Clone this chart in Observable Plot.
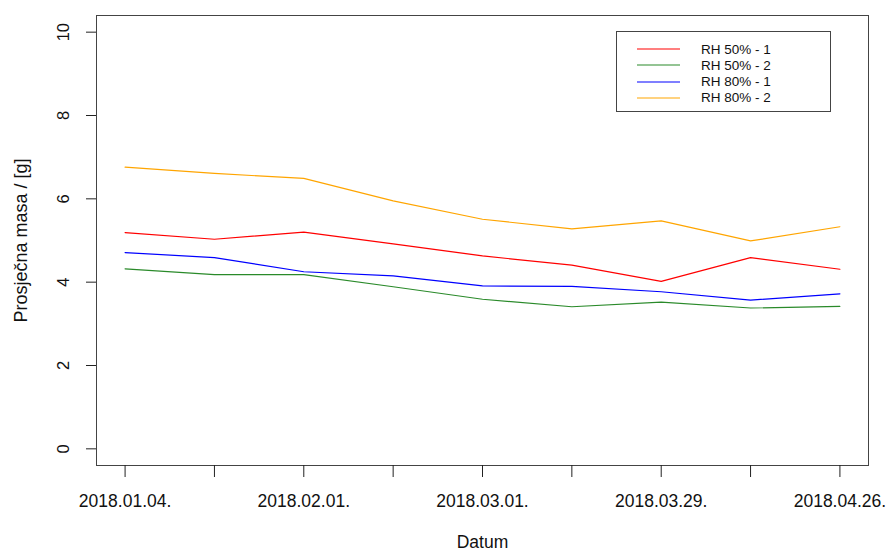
<!DOCTYPE html>
<html>
<head>
<meta charset="utf-8">
<script src="https://cdn.jsdelivr.net/npm/d3@7"></script>
<script src="https://cdn.jsdelivr.net/npm/@observablehq/plot@0.6"></script>
<style>
  html, body { margin: 0; padding: 0; background: #fff; }
  #wrap { position: relative; width: 887px; height: 551px; font-family: "Liberation Sans", Arial, Helvetica, sans-serif; }
  #legend { position: absolute; left: 616px; top: 31px; width: 215px; height: 81px; border: 1px solid #444; background: #fff; box-sizing: border-box; }
  .row { position: absolute; left: 0; height: 16px; display: flex; align-items: center; }
  .row svg { margin-left: 20px; }
  .row span { margin-left: 21px; font-size: 13.5px; color: #111; }
</style>
</head>
<body>
<div id="wrap"></div>
<script>
const dates = ["2018-01-04","2018-01-18","2018-02-01","2018-02-15","2018-03-01","2018-03-15","2018-03-29","2018-04-12","2018-04-26"];
const tickLabels = ["2018.01.04.","","2018.02.01.","","2018.03.01.","","2018.03.29.","","2018.04.26."];
const seriesNames = ["RH 50% - 1","RH 50% - 2","RH 80% - 1","RH 80% - 2"];
const seriesColors = ["#ff0000","#2a8a2a","#0000ff","#ffa500"];
const rh50_1 = [5.19,5.03,5.20,4.92,4.63,4.41,4.02,4.59,4.31];
const rh50_2 = [4.32,4.18,4.18,3.89,3.59,3.41,3.52,3.38,3.42];
const rh80_1 = [4.71,4.59,4.25,4.15,3.91,3.90,3.77,3.57,3.72];
const rh80_2 = [6.76,6.61,6.49,5.95,5.51,5.28,5.47,4.99,5.33];
const yTicks = [0,2,4,6,8,10];
const xTitle = "Datum";
const yTitle = "Prosječna masa / [g]";

const seriesValues = [rh50_1, rh50_2, rh80_1, rh80_2];
const parsed = dates.map(d => new Date(d + "T00:00:00Z"));
const data = [];
seriesValues.forEach((vals, s) => vals.forEach((v, i) => data.push({series: seriesNames[s], date: parsed[i], value: v})));

const t0 = parsed[0], t1 = parsed[parsed.length - 1];
const ext = (t1 - t0) * 0.04;
const labelOf = new Map(parsed.map((d, i) => [+d, tickLabels[i]]));

const chart = Plot.plot({
  width: 887,
  height: 551,
  marginLeft: 96,
  marginRight: 19,
  marginTop: 15,
  marginBottom: 86,
  style: {fontFamily: '"Liberation Sans", Arial, Helvetica, sans-serif', color: "#111", background: "#fff", overflow: "visible"},
  x: {type: "utc", domain: [new Date(+t0 - ext), new Date(+t1 + ext)]},
  y: {domain: [-0.4, 10.4]},
  color: {domain: seriesNames, range: seriesColors},
  marks: [
    Plot.frame({stroke: "#444", strokeWidth: 1}),
    Plot.axisX({ticks: parsed, tickFormat: d => labelOf.get(+d) ?? "", tickSize: 12, tickPadding: 17, fontSize: 17.5, label: null, stroke: "#222"}),
    Plot.axisY({ticks: yTicks, tickFormat: () => "", tickSize: 10, tickPadding: 0, label: null, stroke: "#222"}),
    Plot.text(yTicks, {y: d => d, text: d => String(d), frameAnchor: "left", dx: -28, rotate: -90, textAnchor: "middle", lineAnchor: "bottom", fontSize: 16.5, fill: "#111"}),
    Plot.text([yTitle], {frameAnchor: "left", dx: -70, rotate: -90, textAnchor: "middle", lineAnchor: "bottom", fontSize: 18, fill: "#111"}),
    Plot.text([xTitle], {frameAnchor: "bottom", dy: 82, lineAnchor: "bottom", fontSize: 17.5, fill: "#111"}),
    Plot.line(data, {x: "date", y: "value", z: "series", stroke: "series", strokeWidth: 1.2})
  ]
});
const wrap = document.getElementById("wrap");
wrap.appendChild(chart);

const legend = document.createElement("div");
legend.id = "legend";
seriesNames.forEach((name, i) => {
  const row = document.createElement("div");
  row.className = "row";
  row.style.top = (9 + i * 16.3) + "px";
  row.innerHTML = `<svg width="43" height="4"><line x1="0" x2="43" y1="2" y2="2" stroke="${seriesColors[i]}" stroke-width="1.2"/></svg><span>${name}</span>`;
  legend.appendChild(row);
});
wrap.appendChild(legend);
</script>
</body>
</html>
